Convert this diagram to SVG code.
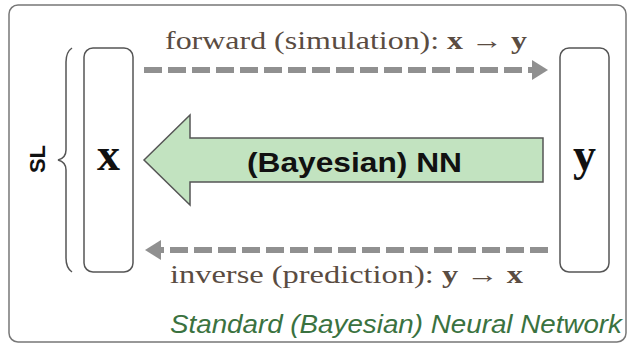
<svg xmlns="http://www.w3.org/2000/svg" width="631" height="347" viewBox="0 0 631 347">
<defs>
<style>
.box{fill:#fff;stroke:#555;stroke-width:1.5}
.dash{fill:none;stroke:#909090;stroke-width:6;stroke-dasharray:18 6}
.head{fill:#909090}
.lbl{font-family:"Liberation Serif","DejaVu Serif",serif;font-size:25px;fill:#5a4c42}
.var{font-family:"Liberation Serif","DejaVu Serif",serif;font-weight:bold;font-size:46px;fill:#111}
.nn{font-family:"Liberation Sans",Arial,sans-serif;font-weight:bold;font-size:27px;fill:#111}
.title{font-family:"Liberation Sans",Arial,sans-serif;font-style:italic;font-size:26px;fill:#3a7240}
.sl{font-family:"Liberation Sans",Arial,sans-serif;font-weight:bold;font-size:22px;fill:#111}
</style>
</defs>
<rect x="9" y="5" width="617" height="337" rx="9" fill="#fff" stroke="#777" stroke-width="1.5"/>
<g id="brace">
<path d="M72,48 Q66,52 66,62 L66,150 Q66,158 58,160 Q66,162 66,170 L66,258 Q66,268 72,272" fill="none" stroke="#555" stroke-width="1.5"/>
<text class="sl" transform="translate(45,159) rotate(-90)" text-anchor="middle">SL</text>
</g>
<g id="node-x">
<rect class="box" x="84" y="48" width="49" height="224" rx="9"/>
<text class="var" x="108.5" y="170" text-anchor="middle">x</text>
</g>
<g id="node-y">
<rect class="box" x="560" y="48" width="49" height="224" rx="9"/>
<text class="var" x="584.5" y="170" text-anchor="middle">y</text>
</g>
<g id="connectors">
<path class="dash" d="M144,70 H532"/>
<polygon class="head" points="532,60 548,70 532,80"/>
<path class="dash" d="M548,250 H161"/>
<polygon class="head" points="161,240 145,250 161,260"/>
<g id="nn-arrow">
<polygon points="144,160 190,115 190,138 543,138 543,182 190,182 190,205" fill="#c2e3c0" stroke="#555" stroke-width="1.5"/>
<text class="nn" x="247" y="172" textLength="215" lengthAdjust="spacingAndGlyphs">(Bayesian) NN</text>
</g>
</g>
<text class="lbl" x="165" y="49" textLength="362" lengthAdjust="spacingAndGlyphs">forward (simulation): <tspan font-weight="bold">x</tspan> → <tspan font-weight="bold">y</tspan></text>
<text class="lbl" x="170" y="283" textLength="353" lengthAdjust="spacingAndGlyphs">inverse (prediction): <tspan font-weight="bold">y</tspan> → <tspan font-weight="bold">x</tspan></text>
<text class="title" x="170" y="333" textLength="452" lengthAdjust="spacingAndGlyphs">Standard (Bayesian) Neural Network</text>
</svg>
